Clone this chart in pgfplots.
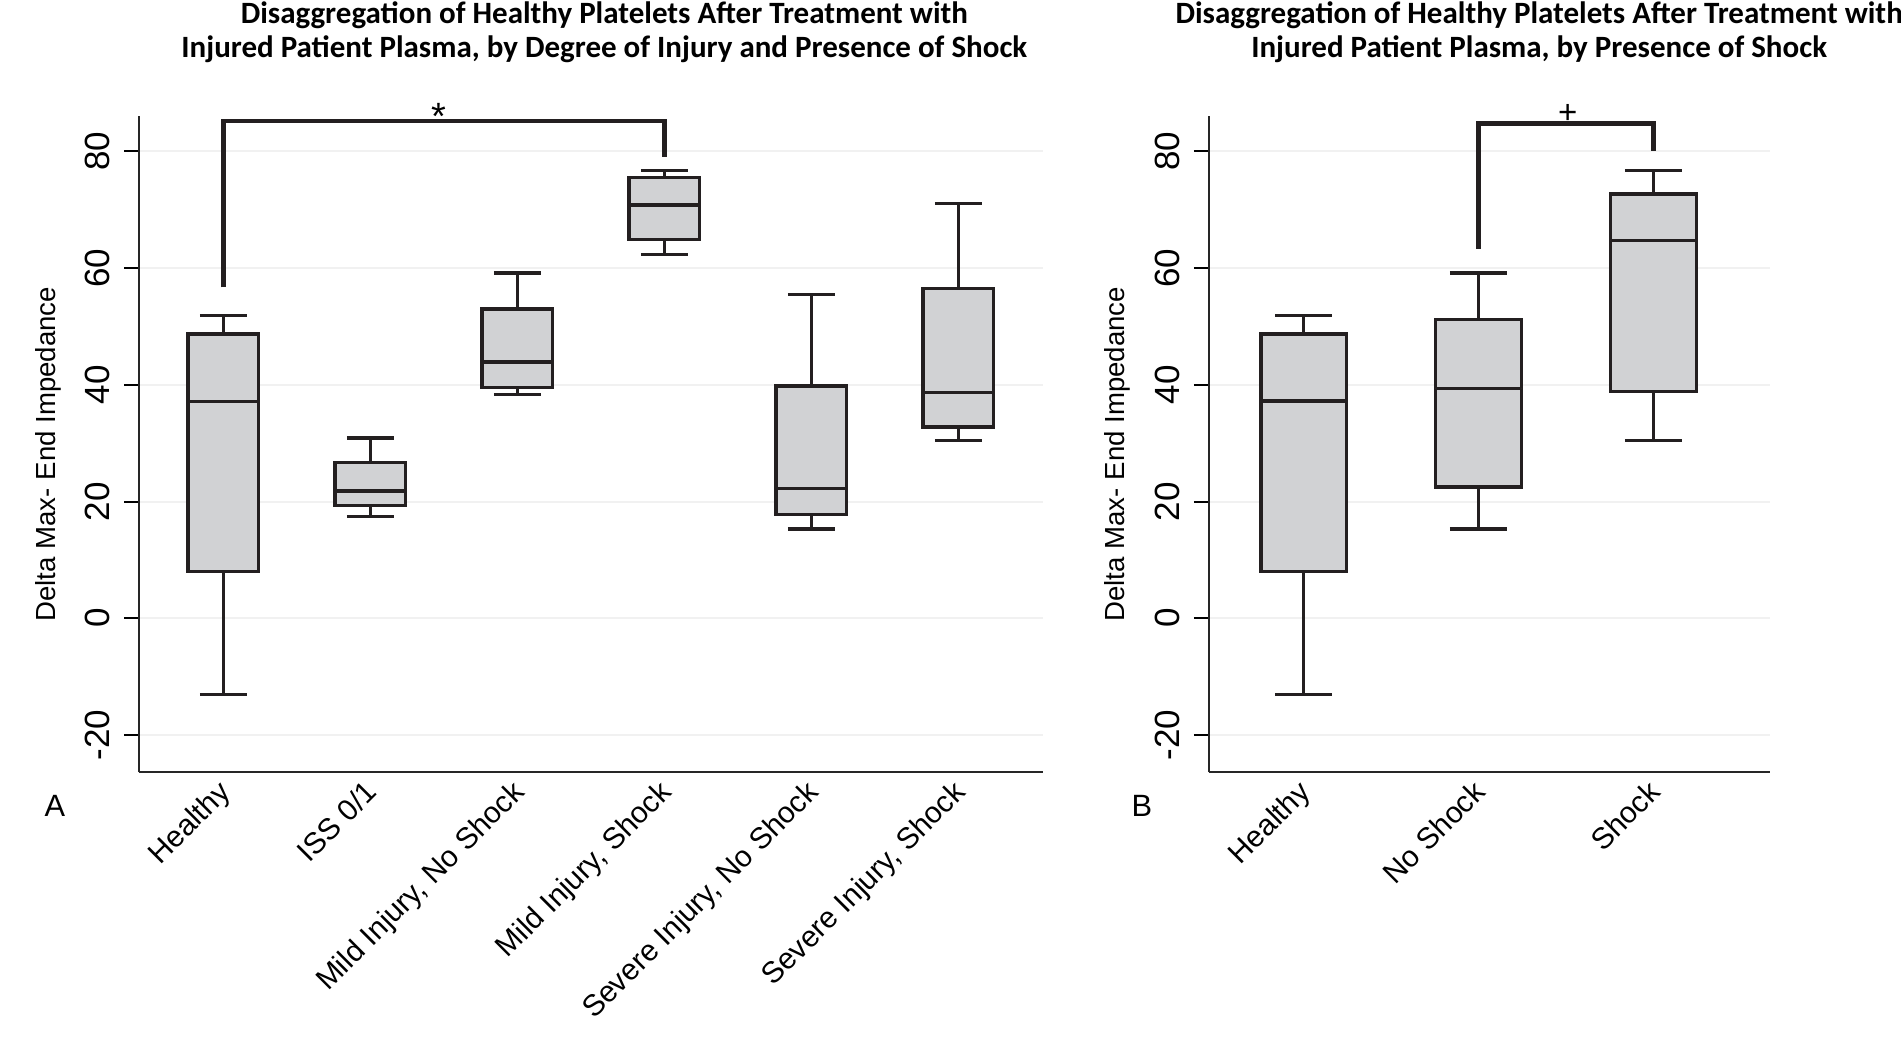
\documentclass[border=0pt]{standalone}
\usepackage{fontspec}
\setmainfont{Liberation Sans}
\newfontfamily\titlefont{Carlito}
\usepackage{pgfplots}
\pgfplotsset{compat=1.18}
\usepgfplotslibrary{statistics}
\definecolor{boxfill}{HTML}{D1D2D4}
\definecolor{boxline}{HTML}{231F20}
\definecolor{gridc}{HTML}{F1F1F1}
\pgfplotsset{
  common/.style={
    scale only axis,
    height=327.9pt,
    ymin=-26.4, ymax=86,
    ytick={-20,0,20,40,60,80},
    yticklabels={-20,0,20,40,60,80},
    axis x line=bottom, axis y line=left,
    axis line style={line width=1pt, draw=black!85, -},
    ymajorgrids, grid style={gridc, line width=1pt},
    tick align=outside, major tick length=7.5pt,
    ytick style={line width=1pt, black},
    xtick style={draw=none},
    yticklabel style={rotate=90, anchor=south, inner sep=0pt, font=\fontsize{17.5}{18}\selectfont},
    yticklabel shift=7pt,
    xticklabel style={xshift=-3.5pt, rotate=45, anchor=north east, inner sep=0pt, font=\fontsize{14.9}{15}\selectfont},
    xticklabel shift=-4.5pt,
    ylabel={Delta Max- End Impedance},
    clip=false,
    boxplot/draw direction=y,
  },
  bx/.style={draw=boxline, fill=boxfill, line width=1.7pt, solid},
}
\begin{document}
\begin{tikzpicture}
\useasboundingbox (0,0) rectangle (950.5pt,521pt);
% Panel A
\begin{axis}[common,
  at={(69.7pt,134.85pt)}, anchor=south west,
  width=451.8pt,
  xmin=-0.571, xmax=5.575,
  xtick={0,1,2,3,4,5},
  xticklabels={Healthy,ISS 0/1,{Mild Injury, No Shock},{Mild Injury, Shock},{Severe Injury, No Shock},{Severe Injury, Shock}},
  every axis y label/.style={at={(axis description cs:-0.1007,0.485)}, rotate=90, anchor=center, font=\fontsize{13.8}{14}\selectfont},
  boxplot/box extend=0.48, boxplot/whisker extend=0.32,
]
\addplot[bx, boxplot prepared={draw position=0, lower whisker=-13.1, lower quartile=8.0, median=37.2, upper quartile=48.7, upper whisker=51.9}] coordinates {};
\addplot[bx, boxplot prepared={draw position=1, lower whisker=17.4, lower quartile=19.3, median=21.8, upper quartile=26.7, upper whisker=30.9}] coordinates {};
\addplot[bx, boxplot prepared={draw position=2, lower whisker=38.4, lower quartile=39.6, median=43.9, upper quartile=53.0, upper whisker=59.2}] coordinates {};
\addplot[bx, boxplot prepared={draw position=3, lower whisker=62.3, lower quartile=64.9, median=70.8, upper quartile=75.5, upper whisker=76.7}] coordinates {};
\addplot[bx, boxplot prepared={draw position=4, lower whisker=15.3, lower quartile=17.8, median=22.2, upper quartile=39.8, upper whisker=55.5}] coordinates {};
\addplot[bx, boxplot prepared={draw position=5, lower whisker=30.5, lower quartile=32.8, median=38.7, upper quartile=56.5, upper whisker=71.1}] coordinates {};
\draw[boxline, line width=2.2pt, miter limit=2] (axis cs:0,56.7) -- (axis cs:0,85.2) -- (axis cs:3,85.2) -- (axis cs:3,79.0);
\node[anchor=base, inner sep=0pt, font=\fontsize{19}{19}\selectfont] at (axis cs:1.463,83.8) {*};
\end{axis}
% Panel B
\begin{axis}[common,
  at={(604.4pt,134.85pt)}, anchor=south west,
  width=280.6pt,
  xmin=-0.543, xmax=2.667,
  xtick={0,1,2},
  xticklabels={Healthy,No Shock,Shock},
  every axis y label/.style={at={(axis description cs:-0.1622,0.485)}, rotate=90, anchor=center, font=\fontsize{13.8}{14}\selectfont},
  boxplot/box extend=0.49, boxplot/whisker extend=0.327,
]
\addplot[bx, boxplot prepared={draw position=0, lower whisker=-13.1, lower quartile=8.0, median=37.2, upper quartile=48.7, upper whisker=51.9}] coordinates {};
\addplot[bx, boxplot prepared={draw position=1, lower whisker=15.3, lower quartile=22.5, median=39.4, upper quartile=51.2, upper whisker=59.2}] coordinates {};
\addplot[bx, boxplot prepared={draw position=2, lower whisker=30.5, lower quartile=38.9, median=64.7, upper quartile=72.7, upper whisker=76.7}] coordinates {};
\draw[boxline, line width=2.2pt, miter limit=2] (axis cs:1,63.3) -- (axis cs:1,84.8) -- (axis cs:2,84.8) -- (axis cs:2,80.0);
\node[anchor=south, inner sep=0pt, font=\fontsize{16.5}{17}\selectfont] at (axis cs:1.51,84.8) {+};
\end{axis}
% Titles
\node[font=\titlefont\bfseries\fontsize{15.5}{16}\selectfont] at (302.2pt,513.2pt) {Disaggregation of Healthy Platelets After Treatment with};
\node[font=\titlefont\bfseries\fontsize{15.5}{16}\selectfont] at (302.2pt,496.2pt) {Injured Patient Plasma, by Degree of Injury and Presence of Shock};
\node[font=\titlefont\bfseries\fontsize{15.5}{16}\selectfont] at (769.6pt,513.2pt) {Disaggregation of Healthy Platelets After Treatment with};
\node[font=\titlefont\bfseries\fontsize{15.5}{16}\selectfont] at (769.6pt,496.2pt) {Injured Patient Plasma, by Presence of Shock};
% Panel letters
\node[font=\fontsize{15.4}{16}\selectfont] at (27.5pt,118pt) {A};
\node[font=\fontsize{15.4}{16}\selectfont] at (571pt,118pt) {B};
\end{tikzpicture}
\end{document}
